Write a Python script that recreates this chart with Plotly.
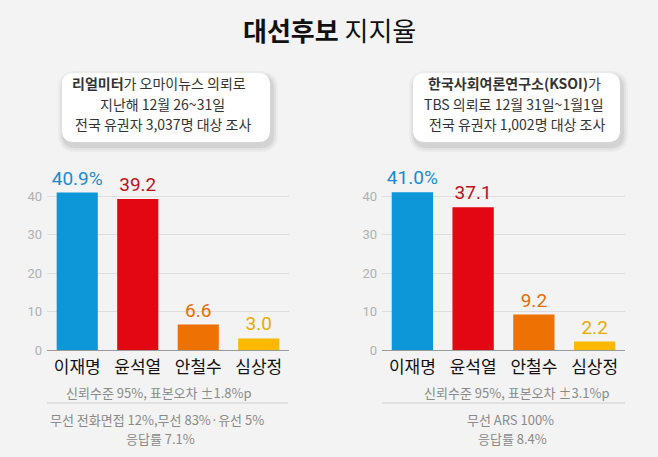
import plotly.graph_objects as go

# ---- data ----
categories = ["이재명", "윤석열", "안철수", "심상정"]
realmeter_values = [40.9, 39.2, 6.6, 3.0]
ksoi_values = [41.0, 37.1, 9.2, 2.2]
y_ticks = [0, 10, 20, 30, 40]

bar_colors = ["#0d96d8", "#e30613", "#ee7203", "#fbb900"]
label_colors = ["#1a8ccc", "#c0101a", "#e06e08", "#e4ad00"]

W, H = 658, 457
KR = "Noto Sans CJK KR"


def px(x):
    return x / W


def py(y):
    return 1 - y / H


def labels(vals):
    return [f"{v:.1f}%" if i == 0 else f"{v:.1f}" for i, v in enumerate(vals)]


for_traces = [("x", "y", realmeter_values), ("x2", "y2", ksoi_values)]
fig = go.Figure()
for xr, yr, vals in for_traces:
    fig.add_trace(go.Bar(
        x=categories, y=vals, xaxis=xr, yaxis=yr,
        marker=dict(color=bar_colors, line=dict(width=0)),
        text=labels(vals), textposition="outside", constraintext="none",
        textfont=dict(color=label_colors, size=19, family="Roboto"),
        cliponaxis=False, hoverinfo="skip", showlegend=False,
    ))

ymax = 46
y0_px = 350
unit = 3.85
ydom = [py(y0_px), py(y0_px - ymax * unit)]

xa = dict(type="category", range=[-0.5, 3.5], showgrid=False, zeroline=False, showline=False,
          ticks="", automargin=False, ticklabelstandoff=5,
          tickfont=dict(family=KR, size=17, color="#111"), fixedrange=True)
ya = dict(range=[0, ymax], tickvals=y_ticks, showgrid=True, gridcolor="#dedede", gridwidth=1,
          zeroline=True, zerolinecolor="#9a9a9a", zerolinewidth=1, showline=False,
          automargin=False, ticklabelstandoff=4,
          tickfont=dict(family="Roboto", size=13, color="#b0b0b0"), ticks="", fixedrange=True)

fig.update_layout(
    width=W, height=H,
    margin=dict(l=0, r=0, t=0, b=0),
    paper_bgcolor="#f3f3f3", plot_bgcolor="rgba(0,0,0,0)",
    bargap=0.32,
    xaxis=dict(xa, domain=[px(47), px(289)], anchor="y"),
    yaxis=dict(ya, domain=ydom, anchor="x"),
    xaxis2=dict(xa, domain=[px(382), px(625)], anchor="y2"),
    yaxis2=dict(ya, domain=ydom, anchor="x2"),
)


def rounded_box(x0, y0, x1, y1, r):
    X0, X1 = px(x0), px(x1)
    Y0, Y1 = py(y0), py(y1)
    rx, ry = r / W, r / H
    return (f"M{X0+rx},{Y0} L{X1-rx},{Y0} Q{X1},{Y0} {X1},{Y0-ry} "
            f"L{X1},{Y1+ry} Q{X1},{Y1} {X1-rx},{Y1} L{X0+rx},{Y1} "
            f"Q{X0},{Y1} {X0},{Y1+ry} L{X0},{Y0-ry} Q{X0},{Y0} {X0+rx},{Y0} Z")


shapes = []
for (x0, x1) in [(62, 270), (413, 620)]:
    for k, op in [(6, 0.03), (4, 0.04), (2, 0.06)]:
        shapes.append(dict(type="path", xref="paper", yref="paper",
                           path=rounded_box(x0 - k + 2, 73 - k + 4, x1 + k + 2, 142 + k + 4, 12 + k),
                           fillcolor=f"rgba(0,0,0,{op})", line=dict(width=0), layer="below"))
    shapes.append(dict(type="path", xref="paper", yref="paper",
                       path=rounded_box(x0, 73, x1, 142, 12),
                       fillcolor="#ffffff", line=dict(width=0), layer="below"))
# separator lines under confidence note
for (x0, x1) in [(47, 288), (382, 625)]:
    shapes.append(dict(type="line", xref="paper", yref="paper",
                       x0=px(x0), x1=px(x1), y0=py(403), y1=py(403),
                       line=dict(color="#cfcfcf", width=1)))
fig.update_layout(shapes=shapes)

annotations = []


def note(text, x, y, size=14, color="#333", family=KR):
    annotations.append(dict(text=text, x=px(x), y=py(y), xref="paper", yref="paper",
                            xanchor="center", yanchor="middle", showarrow=False,
                            font=dict(family=family, size=size, color=color)))


note("<b>대선후보</b> 지지율", 329, 29, size=26, color="#111")

note("<b>리얼미터</b>가 오마이뉴스 의뢰로", 159, 83, size=14, color="#333")
note("지난해 12월 26~31일", 162, 104, size=14, color="#333")
note("전국 유권자 3,037명 대상 조사", 163, 124, size=14, color="#333")

note("<b>한국사회여론연구소(KSOI)</b>가", 514, 83, size=14, color="#333")
note("TBS 의뢰로 12월 31일~1월1일", 514, 104, size=14, color="#333")
note("전국 유권자 1,002명 대상 조사", 517, 124, size=14, color="#333")

note("신뢰수준 95%, 표본오차 ±1.8%p", 159, 392, size=13, color="#8a8a8a")
note("무선 전화면접 12%,무선 83%·유선 5%", 157, 419, size=13, color="#8a8a8a")
note("응답률 7.1%", 160, 438, size=13, color="#8a8a8a")

note("신뢰수준 95%, 표본오차 ±3.1%p", 517, 392, size=13, color="#8a8a8a")
note("무선 ARS 100%", 511, 419, size=13, color="#8a8a8a")
note("응답률 8.4%", 512, 438, size=13, color="#8a8a8a")

fig.update_layout(annotations=annotations)

fig.write_html(
    "out.html",
    config={"displayModeBar": False, "staticPlot": True},
    post_script="document.body.style.margin='0';document.body.style.background='#f3f3f3';"
                "document.body.style.overflow='hidden';",
)
